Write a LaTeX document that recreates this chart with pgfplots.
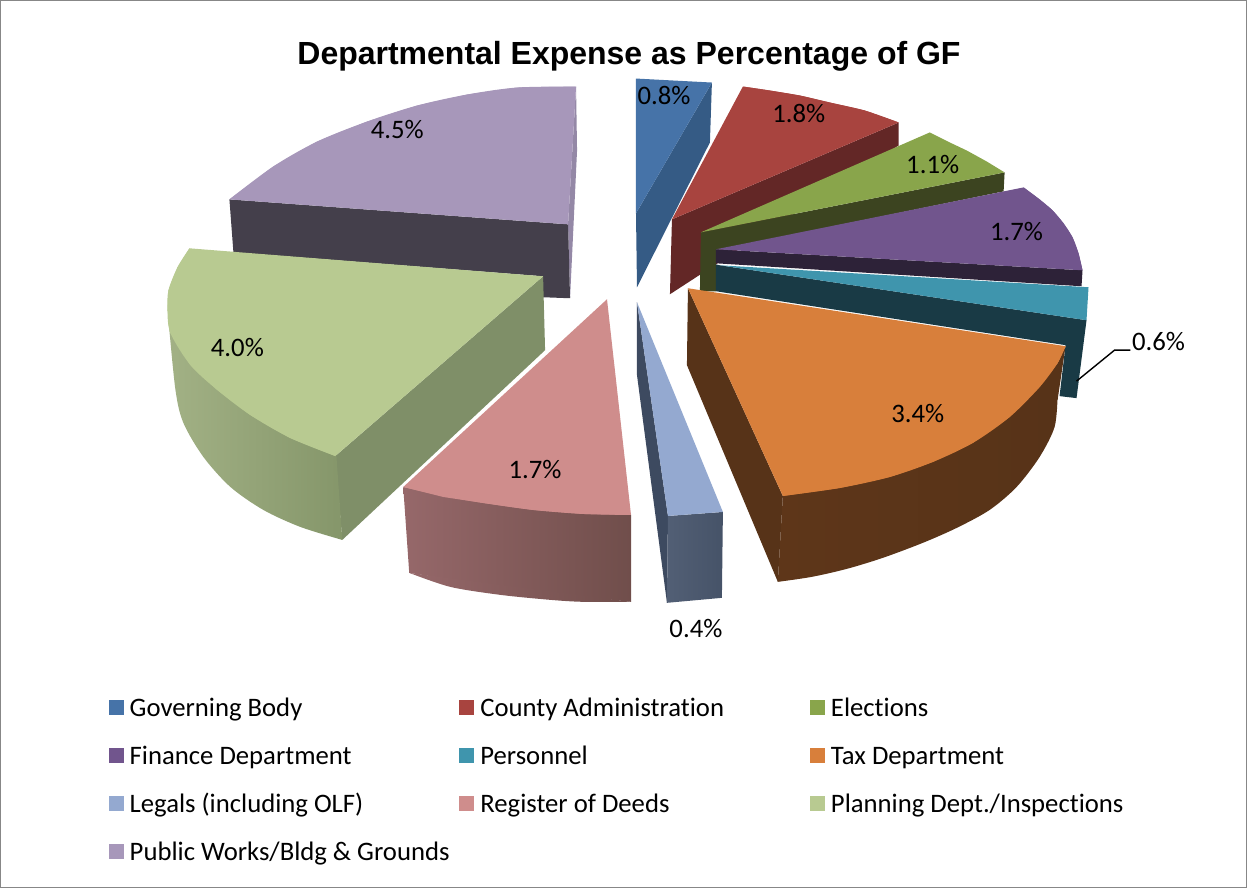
\documentclass[border=0pt]{standalone}
\usepackage{pgfplots}
\usepackage{fontspec}
\pgfplotsset{compat=1.18}
\setmainfont{Carlito}[Ligatures=NoCommon]
\newfontfamily\titlefont{Liberation Sans}
\definecolor{cA}{HTML}{4673A8}\definecolor{cAs}{HTML}{355B85}
\definecolor{cB}{HTML}{A8443F}\definecolor{cBs}{HTML}{632726}
\definecolor{cC}{HTML}{89A54B}\definecolor{cCs}{HTML}{3C4420}
\definecolor{cD}{HTML}{71558D}\definecolor{cDs}{HTML}{2D2238}
\definecolor{cE}{HTML}{3F95AD}\definecolor{cEs}{HTML}{193A45}
\definecolor{cF}{HTML}{D87F3B}\definecolor{cFs}{HTML}{573318}\definecolor{cFl}{HTML}{5E3619}
\definecolor{cG}{HTML}{94A9D0}\definecolor{cGs}{HTML}{3D4A60}\definecolor{cGl}{HTML}{525F75}\definecolor{cGr}{HTML}{465368}
\definecolor{cH}{HTML}{CF8D8C}\definecolor{cHl}{HTML}{96686A}\definecolor{cHr}{HTML}{704E4B}
\definecolor{cI}{HTML}{B8CA91}\definecolor{cIs}{HTML}{7F8F68}\definecolor{cIl}{HTML}{A2B185}\definecolor{cIr}{HTML}{85966A}
\definecolor{cJ}{HTML}{A797BA}\definecolor{cJs}{HTML}{443F4B}\definecolor{cJe}{HTML}{9488A6}
\pgfplotsset{poly/.style={fill=#1,draw=none,forget plot,no markers},
  bulge/.style={fill=#1,draw=none,forget plot,no markers,smooth},
  grad/.style 2 args={left color=#1,right color=#2,draw=none,forget plot,no markers}}
\newcommand{\lab}[3]{\node[font=\fontsize{26.7}{29}\selectfont,inner sep=0pt] at (axis cs:#1,#2) {#3};}
\newcommand{\lt}[3]{\node[font=\fontsize{26.7}{29}\selectfont,inner sep=0pt,anchor=base west] at (axis cs:#1,#2+10) {#3};}
\begin{document}
\begin{tikzpicture}
\begin{axis}[
  scale only axis,width=1246pt,height=887pt,
  xmin=0,xmax=1247,ymin=0,ymax=888,y dir=reverse,
  xtick=\empty,ytick=\empty,axis line style={draw=black!47,line width=1.3pt},
  clip=false,
]
% Governing Body
\addplot[poly=cAs] coordinates {(712,82)(710,142)(637,287)(636,213)};
\addplot[poly=cA] coordinates {(636,78)(712,82)(636,213)};
% County Administration
\addplot[poly=cBs] coordinates {(899,122)(899,145)(670,294)(672,219)};
\addplot[poly=cB] coordinates {(743,86)(770,90)(800,95)(830,102)(865,110)(899,122)(672,219)};
\addplot[bulge=cB] coordinates {(743,86)(770,90)(800,95)(830,102)(865,110)(899,122)};
% Elections
\addplot[poly=cCs] coordinates {(701,232)(1005,172)(1004,191)(716,250)(716,291)(700,291)};
\addplot[poly=cC] coordinates {(930,132)(948,141)(967,150)(987,161)(1005,172)(701,232)};
% Finance
\addplot[poly=cDs] coordinates {(1083,270)(1082,286)(716,263)(716,249)};
\addplot[poly=cD] coordinates {(1024,187)(1040,199)(1053,210)(1064,223)(1073,237)(1079,253)(1083,270)(716,249)};
\addplot[bulge=cD] coordinates {(1024,187)(1040,199)(1053,210)(1064,223)(1073,237)(1079,253)(1083,270)};
% Personnel
\addplot[poly=cEs] coordinates {(720,265)(1087,320)(1077,398)(1060,396)(1066,345)(716,291)(716,264)};
\addplot[poly=cE] coordinates {(720,265)(1089,287)(1087,320)};
% Tax
\addplot[poly=cFs] coordinates {(688,288)(687,365)(778,582)(783,496)};
\addplot[poly=cFs] coordinates {(1066,346)(1058,363)(1040,400)(1058,400)};
\addplot[grad={cFl}{cFs}] coordinates {(783,496)(1058,360)(1058,397)(920,525)(778,582)};
\addplot[grad={cFl}{cFs},smooth] coordinates {(1058,397)(1055,427)(1040,457)(1017,487)(990,510)(957,528)(923,543)(883,558)(847,569)(812,577)(778,582)};
\addplot[poly=cF] coordinates {(688,288)(1066,346)(1058,363)(1040,387)(1010,417)(973,443)(933,462)(890,477)(840,488)(783,496)};
\addplot[bulge=cF] coordinates {(1066,346)(1058,363)(1040,387)(1010,417)(973,443)(933,462)(890,477)(840,488)(783,496)};
% Public Works
\addplot[poly=cJe] coordinates {(576,86)(577,150)(570,298)(568,224)};
\addplot[poly=cJs] coordinates {(229,199)(568,224)(570,298)(543,297)(543,276)(233,252)};
\addplot[poly=cJ] coordinates {(576,86)(517,87)(467,94)(417,105)(367,121)(317,141)(273,166)(229,199)(568,224)};
\addplot[bulge=cJ] coordinates {(576,86)(517,87)(467,94)(417,105)(367,121)(317,141)(273,166)(229,199)};
% Planning
\addplot[poly=cIs] coordinates {(543,276)(335,456)(342,540)(545,350)};
\addplot[grad={cIl}{cIr}] coordinates {(168,320)(200,340)(335,440)(342,540)(250,480)};
\addplot[grad={cIl}{cIr},smooth] coordinates {(168,320)(175,390)(183,423)(203,457)(230,487)(263,510)(300,527)(342,540)};
\addplot[poly=cI] coordinates {(189,248)(543,276)(335,456)(290,438)(250,415)(217,390)(190,365)(170,333)(167,310)(168,290)(177,267)};
\addplot[bulge=cI] coordinates {(189,248)(177,267)(168,290)(167,310)(170,333)(190,365)(217,390)(250,415)(290,438)(335,456)};
% Legals
\addplot[poly=cGs] coordinates {(637,302)(668,516)(667,603)(637,375)};
\addplot[grad={cGl}{cGr}] coordinates {(668,516)(723,512)(722,598)(667,603)};
\addplot[poly=cG] coordinates {(637,302)(723,512)(668,516)};
% Register of Deeds
\addplot[grad={cHl}{cHr}] coordinates {(403,487)(631,515)(631,602)(520,590)(409,573)};
\addplot[grad={cHl}{cHr},smooth] coordinates {(409,573)(450,587)(500,595)(550,600)(583,602)(631,602)};
\addplot[poly=cH] coordinates {(607,299)(631,515)(583,514)(533,510)(483,503)(443,497)(403,487)};
\addplot[bulge=cH] coordinates {(631,515)(583,514)(533,510)(483,503)(443,496)(403,487)};
% leader line
\addplot[black,line width=1.4pt,forget plot,no markers] coordinates {(1077,381)(1115,350)(1131,350)};
% legend swatches
\addplot[poly=cA] coordinates {(108,700)(123,700)(123,715)(108,715)};
\addplot[poly=cB] coordinates {(459,700)(474,700)(474,715)(459,715)};
\addplot[poly=cC] coordinates {(810,700)(825,700)(825,715)(810,715)};
\addplot[poly=cD] coordinates {(108,748)(123,748)(123,763)(108,763)};
\addplot[poly=cE] coordinates {(459,748)(474,748)(474,763)(459,763)};
\addplot[poly=cF] coordinates {(810,748)(825,748)(825,763)(810,763)};
\addplot[poly=cG] coordinates {(108,796)(123,796)(123,811)(108,811)};
\addplot[poly=cH] coordinates {(459,796)(474,796)(474,811)(459,811)};
\addplot[poly=cI] coordinates {(810,796)(825,796)(825,811)(810,811)};
\addplot[poly=cJ] coordinates {(108,845)(123,845)(123,860)(108,860)};
\lt{129}{707}{Governing Body}
\lt{480}{707}{County Administration}
\lt{831}{707}{Elections}
\lt{129}{755}{Finance Department}
\lt{480}{755}{Personnel}
\lt{831}{755}{Tax Department}
\lt{129}{803}{Legals (including OLF)}
\lt{480}{803}{Register of Deeds}
\lt{831}{803}{Planning Dept./Inspections}
\lt{129}{851}{Public Works/Bldg \& Grounds}
\lab{664}{95}{0.8\%}
\lab{799}{113}{1.8\%}
\lab{933}{164}{1.1\%}
\lab{1017}{231}{1.7\%}
\lab{1159}{341}{0.6\%}
\lab{918}{413}{3.4\%}
\lab{696}{629}{0.4\%}
\lab{535}{469}{1.7\%}
\lab{237}{347}{4.0\%}
\lab{397}{129}{4.5\%}
\node[font=\titlefont\bfseries\fontsize{32}{35}\selectfont,inner sep=0pt] at (axis cs:629,55.5) {Departmental Expense as Percentage of GF};
\end{axis}
\end{tikzpicture}
\end{document}
